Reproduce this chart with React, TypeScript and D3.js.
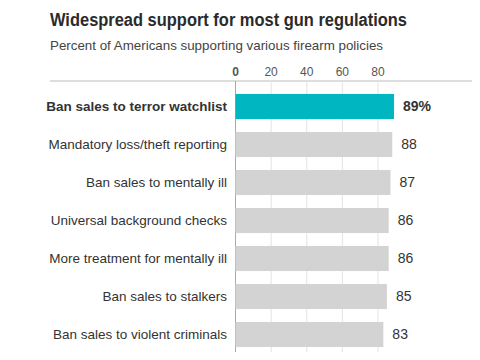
import React from 'react';
import * as d3 from 'd3';

const policies = [
  'Ban sales to terror watchlist',
  'Mandatory loss/theft reporting',
  'Ban sales to mentally ill',
  'Universal background checks',
  'More treatment for mentally ill',
  'Ban sales to stalkers',
  'Ban sales to violent criminals',
];
const support = [89, 88, 87, 86, 86, 85, 83];
const ticks = [0, 20, 40, 60, 80];

const W = 480;
const H = 360;

const App = () => {
  const x = d3.scaleLinear().domain([0, 80]).range([235.5, 378]);
  const y = d3.scaleBand().domain(policies).range([87.5, 353.5]).paddingInner(0.34).paddingOuter(0.17);
  const font = 'Arial, "Liberation Sans", sans-serif';

  return (
    <svg width={W} height={H} style={{ display: 'block', margin: '-8px', background: '#fff' }} fontFamily={font}>
      <text x={50} y={26} fontSize={18} fontWeight="bold" fill="#2b2b2b" textLength={357} lengthAdjust="spacingAndGlyphs">
        Widespread support for most gun regulations
      </text>
      <text x={50} y={50} fontSize={13.3} fill="#444" textLength={333} lengthAdjust="spacingAndGlyphs">
        Percent of Americans supporting various firearm policies
      </text>

      {/* axis labels */}
      {ticks.map((t) => (
        <text key={t} x={x(t)} y={76} fontSize={12} textAnchor="middle" fill="#555" fontWeight={t === 0 ? 'bold' : 'normal'}>
          {t}
        </text>
      ))}
      <line x1={50} x2={W} y1={81} y2={81} stroke="#bbb" strokeWidth={1} />

      {/* grid */}
      {ticks.map((t) => (
        <line key={t} x1={x(t)} x2={x(t)} y1={81} y2={H} stroke={t === 0 ? '#aaa' : '#e3e3e3'} strokeWidth={1} />
      ))}

      {policies.map((p, i) => {
        const first = i === 0;
        const cy = (y(p) as number) + y.bandwidth() / 2;
        return (
          <g key={p}>
            <rect x={x(0)} y={y(p)} width={x(support[i]) - x(0)} height={y.bandwidth()} fill={first ? '#00b6c0' : '#d4d3d4'} />
            <text x={227} y={cy} dy="0.35em" textAnchor="end" fontSize={13.5} fill="#333" fontWeight={first ? 'bold' : 'normal'}>
              {p}
            </text>
            <text x={x(support[i]) + 9} y={cy} dy="0.35em" fontSize={14} fill="#333" fontWeight={first ? 'bold' : 'normal'}>
              {first ? `${support[i]}%` : support[i]}
            </text>
          </g>
        );
      })}
    </svg>
  );
};

export default App;
